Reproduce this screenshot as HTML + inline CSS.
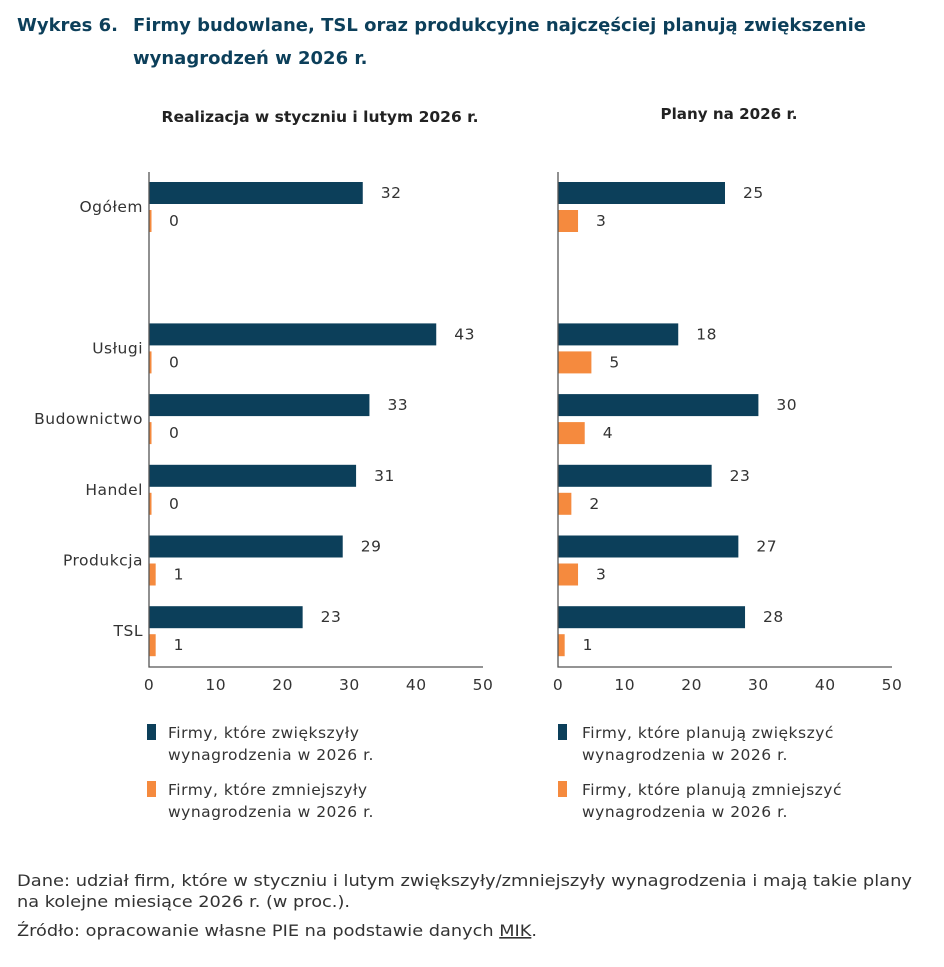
<!DOCTYPE html>
<html><head><meta charset="utf-8"><style>
body{margin:0;background:#fff}
svg{display:block;font-family:"DejaVu Sans","Liberation Sans",sans-serif}
.r{font-size:15.5px;letter-spacing:0.5px;fill:#333}
</style></head><body>
<svg id="c" width="944" height="967" viewBox="0 0 944 967" xmlns="http://www.w3.org/2000/svg">
<text x="17" y="31" font-size="18" font-weight="bold" fill="#0c3f5a">Wykres 6.</text>
<text x="133" y="31" font-size="18" font-weight="bold" fill="#0c3f5a" textLength="733" lengthAdjust="spacingAndGlyphs">Firmy budowlane, TSL oraz produkcyjne najczęściej planują zwiększenie</text>
<text x="133" y="64" font-size="18" font-weight="bold" fill="#0c3f5a">wynagrodzeń w 2026 r.</text>
<text x="320" y="122" font-size="15" font-weight="bold" fill="#222" text-anchor="middle" textLength="317" lengthAdjust="spacingAndGlyphs">Realizacja w styczniu i lutym 2026 r.</text>
<text x="729" y="119" font-size="15" font-weight="bold" fill="#222" text-anchor="middle" textLength="137" lengthAdjust="spacingAndGlyphs">Plany na 2026 r.</text>
<g id="plot"></g>
<rect x="147" y="724" width="9" height="16" fill="#0c3f5a"/>
<text class="r" x="168" y="738"><tspan x="168">Firmy, które zwiększyły</tspan><tspan x="168" dy="22">wynagrodzenia w 2026 r.</tspan></text>
<rect x="147" y="781" width="9" height="16" fill="#f58a3e"/>
<text class="r" x="168" y="795"><tspan x="168">Firmy, które zmniejszyły</tspan><tspan x="168" dy="22">wynagrodzenia w 2026 r.</tspan></text>
<rect x="558" y="724" width="9" height="16" fill="#0c3f5a"/>
<text class="r" x="582" y="738"><tspan x="582">Firmy, które planują zwiększyć</tspan><tspan x="582" dy="22">wynagrodzenia w 2026 r.</tspan></text>
<rect x="558" y="781" width="9" height="16" fill="#f58a3e"/>
<text class="r" x="582" y="795"><tspan x="582">Firmy, które planują zmniejszyć</tspan><tspan x="582" dy="22">wynagrodzenia w 2026 r.</tspan></text>
<text x="17" y="886" font-size="16" fill="#333" textLength="895" lengthAdjust="spacingAndGlyphs">Dane: udział firm, które w styczniu i lutym zwiększyły/zmniejszyły wynagrodzenia i mają takie plany</text>
<text x="17" y="907" font-size="16" fill="#333" textLength="333" lengthAdjust="spacingAndGlyphs">na kolejne miesiące 2026 r. (w proc.).</text>
<text x="17" y="936" font-size="16" fill="#333" textLength="520" lengthAdjust="spacingAndGlyphs">Źródło: opracowanie własne PIE na podstawie danych <tspan text-decoration="underline">MIK</tspan>.</text>
</svg>
<script>
const categories=["Ogółem","","Usługi","Budownictwo","Handel","Produkcja","TSL"];
const realIncrease=[32,null,43,33,31,29,23];
const realDecrease=[0,null,0,0,0,1,1];
const planIncrease=[25,null,18,30,23,27,28];
const planDecrease=[3,null,5,4,2,3,1];
const ticks=[0,10,20,30,40,50];
const NS="http://www.w3.org/2000/svg";
const g=document.getElementById("plot");
function mk(t,a,p){const e=document.createElementNS(NS,t);for(const k in a)e.setAttribute(k,a[k]);(p||g).appendChild(e);return e;}
const top0=182,slot=70.7,bh=22,gap=6,axisBottom=667;
function yBand(i){return top0+i*slot;}
function panel(x0,incr,decr,showCats,name){
  const sx=v=>x0+v*6.68;
  for(let i=0;i<categories.length;i++){
    if(incr[i]===null)continue;
    const y=yBand(i);
    const b1=mk("rect",{x:sx(0),y:y,width:Math.max(sx(incr[i])-sx(0),0),height:bh,fill:"#0c3f5a"});
    
    
    const t1=mk("text",{x:sx(incr[i])+18,y:y+16,class:"r"});t1.textContent=incr[i];
    
    
    const w2=Math.max(sx(decr[i])-sx(0),2.5);
    const b2=mk("rect",{x:sx(0),y:y+bh+gap,width:w2,height:bh,fill:"#f58a3e"});
    
    
    const t2=mk("text",{x:sx(decr[i])+(decr[i]>0?18:20),y:y+bh+gap+16,class:"r"});t2.textContent=decr[i];
    
    
    if(showCats){
      const c=mk("text",{x:143,y:y+bh+gap/2+5,class:"r","text-anchor":"end"});c.textContent=categories[i];
      
      
    }
  }
  const ax=mk("path",{d:`M${sx(0)} 172V${axisBottom}H${sx(50)}`,stroke:"#555","stroke-width":1.3,fill:"none"});
  
  
  ticks.forEach(t=>{
    const tl=mk("text",{x:sx(t),y:690,class:"r","text-anchor":"middle"});tl.textContent=t;
    
    
  });
}
panel(149,realIncrease,realDecrease,true,"left");
panel(558,planIncrease,planDecrease,false,"right");
</script>
</body></html>
